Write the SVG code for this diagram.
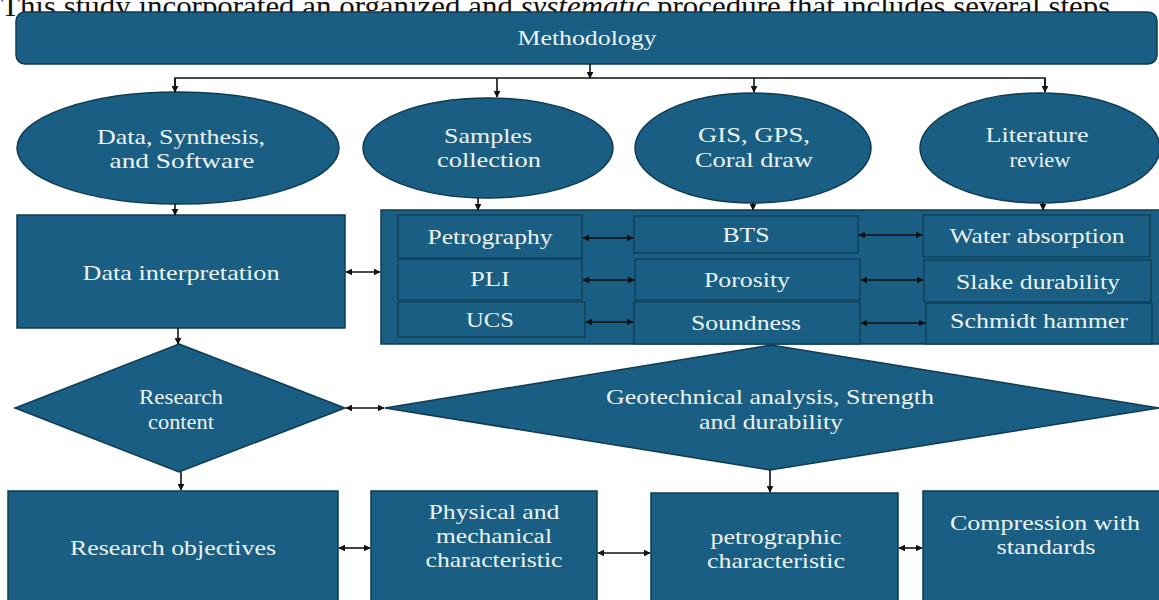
<svg xmlns="http://www.w3.org/2000/svg" width="1159" height="600" viewBox="0 0 1159 600" font-family="'Liberation Serif', 'DejaVu Serif', serif">
<style>
.n{fill:#1a5f83;stroke:#0e3b52;stroke-width:1.5}
.s{fill:#1a5f83;stroke:#0e3b52;stroke-width:1.2}
.t{font-family:'Liberation Serif','DejaVu Serif',serif;font-size:21px;fill:#eaf2f2;text-anchor:middle}
.c{stroke:#111;stroke-width:1.6;fill:none}
</style>
<defs>
<marker id="ae" viewBox="0 0 10 10" refX="9" refY="5" markerWidth="7" markerHeight="7" markerUnits="userSpaceOnUse" orient="auto"><path d="M0,0 L10,5 L0,10 z" fill="#111"/></marker>
<marker id="as" viewBox="0 0 10 10" refX="1" refY="5" markerWidth="7" markerHeight="7" markerUnits="userSpaceOnUse" orient="auto"><path d="M10,0 L0,5 L10,10 z" fill="#111"/></marker>
</defs>
<rect width="1159" height="600" fill="#fff"/>
<text x="1" y="16" textLength="1117" lengthAdjust="spacingAndGlyphs" style="font-family:'Liberation Serif',serif;font-size:29px;fill:#111">This study incorporated an organized and <tspan font-style="italic">systematic</tspan> procedure that includes several steps.</text>

<g id="methodology"><rect class="n" x="16" y="12" width="1141" height="52" rx="9"/><text class="t" x="587" y="45" textLength="139" lengthAdjust="spacingAndGlyphs">Methodology</text></g>

<g id="data-synthesis"><ellipse class="n" cx="178" cy="148" rx="161" ry="56"/><text class="t" x="181" y="144" textLength="168" lengthAdjust="spacingAndGlyphs">Data, Synthesis,</text><text class="t" x="182" y="168" textLength="145" lengthAdjust="spacingAndGlyphs">and  Software</text></g>
<g id="samples"><ellipse class="n" cx="488" cy="148" rx="125" ry="50"/><text class="t" x="488" y="143" textLength="88" lengthAdjust="spacingAndGlyphs">Samples</text><text class="t" x="489" y="167" textLength="104" lengthAdjust="spacingAndGlyphs">collection</text></g>
<g id="gis"><ellipse class="n" cx="753" cy="148" rx="118" ry="55"/><text class="t" x="754" y="142" textLength="112" lengthAdjust="spacingAndGlyphs">GIS, GPS,</text><text class="t" x="754" y="167" textLength="118" lengthAdjust="spacingAndGlyphs">Coral draw</text></g>
<g id="literature"><ellipse class="n" cx="1040" cy="148" rx="120" ry="55"/><text class="t" x="1037" y="142" textLength="103" lengthAdjust="spacingAndGlyphs">Literature</text><text class="t" x="1040" y="167" textLength="61" lengthAdjust="spacingAndGlyphs">review</text></g>

<g id="data-interpretation"><rect class="n" x="17" y="215" width="328" height="113"/><text class="t" x="181" y="280" textLength="197" lengthAdjust="spacingAndGlyphs">Data interpretation</text></g>

<g id="tests">
<rect class="n" x="381" y="210" width="780" height="134"/>
<rect class="s" x="398" y="215" width="184" height="43"/><text class="t" x="490" y="244" textLength="125" lengthAdjust="spacingAndGlyphs">Petrography</text>
<rect class="s" x="398" y="259" width="184" height="41"/><text class="t" x="490" y="286" textLength="40" lengthAdjust="spacingAndGlyphs">PLI</text>
<rect class="s" x="398" y="302" width="187" height="35"/><text class="t" x="490" y="327" textLength="48" lengthAdjust="spacingAndGlyphs">UCS</text>
<rect class="s" x="634" y="216" width="224" height="37"/><text class="t" x="746" y="242" textLength="47" lengthAdjust="spacingAndGlyphs">BTS</text>
<rect class="s" x="635" y="259" width="225" height="41"/><text class="t" x="747" y="287" textLength="86" lengthAdjust="spacingAndGlyphs">Porosity</text>
<rect class="s" x="634" y="302" width="226" height="42"/><text class="t" x="746" y="330" textLength="110" lengthAdjust="spacingAndGlyphs">Soundness</text>
<rect class="s" x="923" y="215" width="227" height="42"/><text class="t" x="1037" y="243" textLength="175" lengthAdjust="spacingAndGlyphs">Water absorption</text>
<rect class="s" x="924" y="260" width="227" height="42"/><text class="t" x="1038" y="289" textLength="164" lengthAdjust="spacingAndGlyphs">Slake durability</text>
<rect class="s" x="926" y="303" width="226" height="41"/><text class="t" x="1039" y="328" textLength="178" lengthAdjust="spacingAndGlyphs">Schmidt hammer</text>
</g>

<g id="research-content"><polygon class="n" points="179,344 345,408 179,472 15,408"/><text class="t" x="181" y="404" textLength="84" lengthAdjust="spacingAndGlyphs">Research</text><text class="t" x="181" y="429" textLength="66" lengthAdjust="spacingAndGlyphs">content</text></g>
<g id="geotechnical"><polygon class="n" points="385,408 771,345 1159,408 770,470"/><text class="t" x="770" y="404" textLength="328" lengthAdjust="spacingAndGlyphs">Geotechnical analysis, Strength</text><text class="t" x="771" y="429" textLength="144" lengthAdjust="spacingAndGlyphs">and durability</text></g>

<g id="research-objectives"><rect class="n" x="8" y="491" width="330" height="112"/><text class="t" x="173" y="555" textLength="206" lengthAdjust="spacingAndGlyphs">Research objectives</text></g>
<g id="physical"><rect class="n" x="371" y="491" width="226" height="112"/><text class="t" x="494" y="519" textLength="131" lengthAdjust="spacingAndGlyphs">Physical and</text><text class="t" x="494" y="543" textLength="116" lengthAdjust="spacingAndGlyphs">mechanical</text><text class="t" x="494" y="567" textLength="137" lengthAdjust="spacingAndGlyphs">characteristic</text></g>
<g id="petrographic"><rect class="n" x="651" y="493" width="247" height="110"/><text class="t" x="776" y="544" textLength="131" lengthAdjust="spacingAndGlyphs">petrographic</text><text class="t" x="776" y="568" textLength="138" lengthAdjust="spacingAndGlyphs">characteristic</text></g>
<g id="compression"><rect class="n" x="923" y="491" width="240" height="112"/><text class="t" x="1045" y="530" textLength="190" lengthAdjust="spacingAndGlyphs">Compression with</text><text class="t" x="1046" y="554" textLength="99" lengthAdjust="spacingAndGlyphs">standards</text></g>

<g id="connectors">
<line class="c" x1="590" y1="64" x2="590" y2="78" marker-end="url(#ae)"/>
<polyline class="c" points="175,92 175,78 1045,78 1045,92"/>
<line class="c" x1="175" y1="79" x2="175" y2="92" marker-end="url(#ae)"/>
<line class="c" x1="1045" y1="79" x2="1045" y2="92" marker-end="url(#ae)"/>
<line class="c" x1="497" y1="78" x2="497" y2="97" marker-end="url(#ae)"/>
<line class="c" x1="754" y1="78" x2="754" y2="92" marker-end="url(#ae)"/>
<line class="c" x1="175" y1="204" x2="175" y2="215" marker-end="url(#ae)"/>
<line class="c" x1="478" y1="198" x2="478" y2="210" marker-end="url(#ae)"/>
<line class="c" x1="753" y1="203" x2="753" y2="210" marker-end="url(#ae)"/>
<line class="c" x1="1043" y1="203" x2="1043" y2="210" marker-end="url(#ae)"/>
<line class="c" x1="346" y1="272" x2="380" y2="272" marker-start="url(#as)" marker-end="url(#ae)"/>
<line class="c" x1="583" y1="238" x2="633" y2="238" marker-start="url(#as)" marker-end="url(#ae)"/>
<line class="c" x1="583" y1="280" x2="634" y2="280" marker-start="url(#as)" marker-end="url(#ae)"/>
<line class="c" x1="586" y1="322" x2="633" y2="322" marker-start="url(#as)" marker-end="url(#ae)"/>
<line class="c" x1="859" y1="235" x2="922" y2="235" marker-start="url(#as)" marker-end="url(#ae)"/>
<line class="c" x1="861" y1="280" x2="923" y2="280" marker-start="url(#as)" marker-end="url(#ae)"/>
<line class="c" x1="861" y1="323" x2="925" y2="323" marker-start="url(#as)" marker-end="url(#ae)"/>
<line class="c" x1="178" y1="328" x2="178" y2="344" marker-end="url(#ae)"/>
<line class="c" x1="346" y1="408" x2="384" y2="408" marker-start="url(#as)" marker-end="url(#ae)"/>
<line class="c" x1="181" y1="472" x2="181" y2="490" marker-end="url(#ae)"/>
<line class="c" x1="770" y1="470" x2="770" y2="492" marker-end="url(#ae)"/>
<line class="c" x1="339" y1="548" x2="370" y2="548" marker-start="url(#as)" marker-end="url(#ae)"/>
<line class="c" x1="598" y1="553" x2="650" y2="553" marker-start="url(#as)" marker-end="url(#ae)"/>
<line class="c" x1="899" y1="548" x2="922" y2="548" marker-start="url(#as)" marker-end="url(#ae)"/>
</g>
</svg>
